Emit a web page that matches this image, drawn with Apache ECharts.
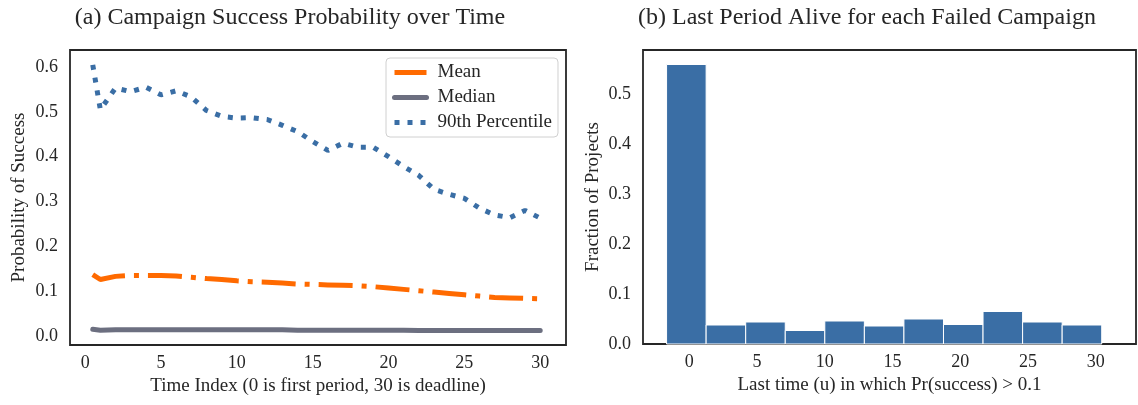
<!DOCTYPE html>
<html>
<head>
<meta charset="utf-8">
<script src="https://cdn.jsdelivr.net/npm/echarts@6/dist/echarts.min.js"></script>
<style>
html,body{margin:0;padding:0;background:#fff;}
#chart{width:1138px;height:405px;}
</style>
</head>
<body>
<div id="chart"></div>
<script>
// ---- Panel (a): campaign success probability over time ----
const timeIndex = [0.5, 1, 2, 3, 4, 5, 6, 7, 8, 9, 10, 11, 12, 13, 14, 15, 16, 17, 18, 19, 20, 21, 22, 23, 24, 25, 26, 27, 28, 29, 30];
const meanProb = [0.137, 0.126, 0.133, 0.135, 0.135, 0.135, 0.134, 0.131, 0.128, 0.126, 0.123, 0.121, 0.120, 0.118, 0.116, 0.115, 0.114, 0.113, 0.112, 0.110, 0.107, 0.104, 0.101, 0.098, 0.095, 0.092, 0.089, 0.086, 0.085, 0.084, 0.083];
const medianProb = [0.015, 0.013, 0.014, 0.014, 0.014, 0.014, 0.014, 0.014, 0.014, 0.014, 0.014, 0.014, 0.014, 0.014, 0.013, 0.013, 0.013, 0.013, 0.013, 0.013, 0.013, 0.013, 0.012, 0.012, 0.012, 0.012, 0.012, 0.012, 0.012, 0.012, 0.012];
const p90Prob = [0.605, 0.505, 0.553, 0.545, 0.555, 0.538, 0.547, 0.533, 0.503, 0.490, 0.486, 0.487, 0.483, 0.470, 0.456, 0.434, 0.414, 0.430, 0.421, 0.421, 0.400, 0.378, 0.358, 0.327, 0.316, 0.307, 0.285, 0.270, 0.264, 0.280, 0.263];
const xTicksA = [0, 5, 10, 15, 20, 25, 30];
const yTicksA = [0, 0.1, 0.2, 0.3, 0.4, 0.5, 0.6];

// ---- Panel (b): histogram of last period alive ----
const binStart = [-1.68, 1.24, 4.16, 7.08, 10.00, 12.92, 15.84, 18.76, 21.68, 24.60, 27.52];
const binEnd   = [1.24, 4.16, 7.08, 10.00, 12.92, 15.84, 18.76, 21.68, 24.60, 27.52, 30.44];
const binFraction = [0.559, 0.038, 0.044, 0.027, 0.046, 0.036, 0.050, 0.039, 0.065, 0.044, 0.038];
const xTicksB = [0, 5, 10, 15, 20, 25, 30];
const yTicksB = [0, 0.1, 0.2, 0.3, 0.4, 0.5];

const FONT = '"Liberation Serif", "DejaVu Serif", serif';
const TXT = '#262626';
const FRAME = '#262626';
const fmt1 = v => v.toFixed(1);
const fmt0 = v => String(Math.round(v));
const zip = (xs, ys) => xs.map((x, i) => [x, ys[i]]);
const histData = binFraction.map((v, i) => [binStart[i], binEnd[i], v]);

const axisCommon = {
  axisLine: {show: false},
  axisTick: {show: false},
  splitLine: {show: false}
};
const tickFont = {fontFamily: FONT, fontSize: 18, color: TXT};
const nameFont = {fontFamily: FONT, fontSize: 19, color: TXT};
const titleFont = {fontFamily: FONT, fontSize: 24, fontWeight: 'normal', color: TXT};

const option = {
  backgroundColor: '#fff',
  animation: false,
  title: [
    {text: '(a) Campaign Success Probability over Time', left: 285, top: 1, textAlign: 'center', textStyle: titleFont},
    {text: '(b) Last Period Alive for each Failed Campaign', left: 862, top: 1, textAlign: 'center', textStyle: titleFont}
  ],
  grid: [
    {left: 70, top: 50, width: 496, height: 295, show: true, borderColor: FRAME, borderWidth: 1.8, backgroundColor: 'transparent'},
    {left: 643, top: 50, width: 493, height: 294, show: true, borderColor: FRAME, borderWidth: 1.8, backgroundColor: 'transparent'}
  ],
  xAxis: [
    Object.assign({}, axisCommon, {
      type: 'value', gridIndex: 0, min: -1.0, max: 31.7,
      name: 'Time Index (0 is first period, 30 is deadline)', nameLocation: 'middle', nameGap: 30,
      nameTextStyle: nameFont,
      axisLabel: Object.assign({customValues: xTicksA, formatter: fmt0, margin: 9}, tickFont)
    }),
    Object.assign({}, axisCommon, {
      type: 'value', gridIndex: 1, min: -3.42, max: 32.97,
      name: 'Last time (u) in which Pr(success) > 0.1', nameLocation: 'middle', nameGap: 30,
      nameTextStyle: nameFont,
      axisLabel: Object.assign({customValues: xTicksB, formatter: fmt0, margin: 9}, tickFont)
    })
  ],
  yAxis: [
    Object.assign({}, axisCommon, {
      type: 'value', gridIndex: 0, min: -0.0201, max: 0.638,
      name: 'Probability of Success', nameLocation: 'middle', nameGap: 41,
      nameTextStyle: nameFont,
      axisLabel: Object.assign({customValues: yTicksA, formatter: fmt1, margin: 12}, tickFont)
    }),
    Object.assign({}, axisCommon, {
      type: 'value', gridIndex: 1, min: 0, max: 0.588,
      name: 'Fraction of Projects', nameLocation: 'middle', nameGap: 40,
      nameTextStyle: nameFont,
      axisLabel: Object.assign({customValues: yTicksB, formatter: fmt1, margin: 12}, tickFont)
    })
  ],
  legend: {
    orient: 'vertical', left: 386, top: 58,
    padding: [5, 6, 5, 6],
    itemWidth: 32, itemHeight: 14, itemGap: 6,
    backgroundColor: '#fff', borderColor: '#d0d0d0', borderWidth: 1, borderRadius: 4,
    itemStyle: {color: 'rgba(0,0,0,0)', borderColor: 'rgba(0,0,0,0)', borderWidth: 0, opacity: 0},
    lineStyle: {width: 5},
    textStyle: {fontFamily: FONT, fontSize: 19, color: TXT, lineHeight: 19, padding: [0, 0, 0, 6]},
    data: ['Mean', 'Median', '90th Percentile']
  },
  series: [
    {
      name: 'Mean', type: 'line', xAxisIndex: 0, yAxisIndex: 0,
      data: zip(timeIndex, meanProb), symbol: 'none', showSymbol: false,
      color: '#ff6a00',
      lineStyle: {color: '#ff6a00', width: 5, type: [34, 9, 5, 9], cap: 'butt'}
    },
    {
      name: 'Median', type: 'line', xAxisIndex: 0, yAxisIndex: 0,
      data: zip(timeIndex, medianProb), symbol: 'none', showSymbol: false,
      color: '#6c6f80',
      lineStyle: {color: '#6c6f80', width: 5, type: 'solid', cap: 'round'}
    },
    {
      name: '90th Percentile', type: 'line', xAxisIndex: 0, yAxisIndex: 0,
      data: zip(timeIndex, p90Prob), symbol: 'none', showSymbol: false,
      color: '#3a6ea5',
      lineStyle: {color: '#3a6ea5', width: 5, type: [5, 8], cap: 'butt'}
    },
    {
      type: 'custom', xAxisIndex: 1, yAxisIndex: 1,
      data: histData,
      encode: {x: [0, 1], y: 2},
      renderItem: function (params, api) {
        const p0 = api.coord([api.value(0), api.value(2)]);
        const p1 = api.coord([api.value(1), 0]);
        return {
          type: 'rect',
          shape: {x: p0[0], y: p0[1], width: p1[0] - p0[0], height: p1[1] - p0[1]},
          style: {fill: '#3a6ea5', stroke: '#ffffff', lineWidth: 1}
        };
      }
    }
  ]
};

const chart = echarts.init(document.getElementById('chart'), null, {renderer: 'canvas'});
chart.setOption(option);
</script>
</body>
</html>
